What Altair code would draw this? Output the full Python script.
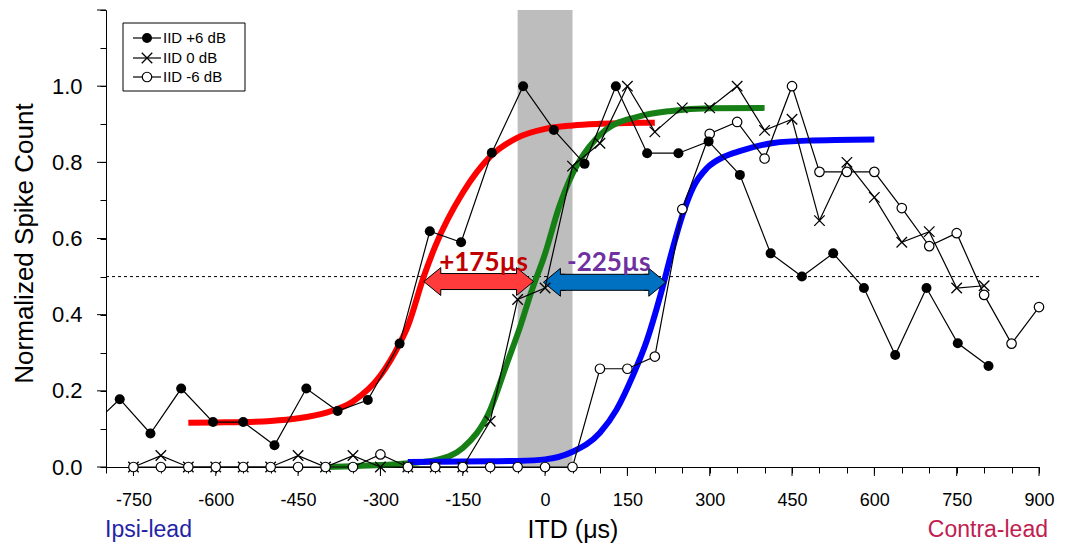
import altair as alt
import pandas as pd

FONT = "Liberation Sans"

# ---------------- data ----------------
# IID +6 dB (filled circles)
itd_p6 = [-832, -775, -719, -663, -605, -550, -493, -435, -378, -323, -265, -210, -153, -97, -40,
          16, 72, 129, 186, 243, 298, 355, 411, 468, 525, 581, 638, 695, 752, 808]
cnt_p6 = [0.10, 0.178, 0.088, 0.206, 0.118, 0.118, 0.057, 0.206, 0.147, 0.176, 0.324, 0.619, 0.59, 0.825, 1.0,
          0.885, 0.796, 1.0, 0.824, 0.824, 0.855, 0.767, 0.561, 0.50, 0.561, 0.47, 0.294, 0.47, 0.325, 0.265]

# IID 0 dB (crosses)
itd_0 = [-750, -700, -650, -600, -550, -500, -450, -400, -350, -300, -250, -200, -150, -100, -50, 0,
         50, 100, 150, 200, 250, 300, 350, 400, 450, 500, 550, 600, 650, 700, 750, 800]
cnt_0 = [0.0, 0.03, 0.0, 0.0, 0.0, 0.0, 0.03, 0.0, 0.03, 0.0, 0.0, 0.0, 0.0, 0.12, 0.44, 0.47,
         0.79, 0.85, 1.0, 0.88, 0.943, 0.943, 1.0, 0.884, 0.913, 0.647, 0.80, 0.708, 0.59, 0.618, 0.47, 0.476]

# IID -6 dB (open circles)
itd_m6 = [-750, -700, -650, -600, -550, -500, -450, -400, -350, -300, -250, -200, -150, -100, -50, 0, 50,
          100, 150, 200, 250, 300, 350, 400, 450, 500, 550, 600, 650, 700, 750, 800, 850, 900]
cnt_m6 = [0.0, 0.0, 0.0, 0.0, 0.0, 0.0, 0.0, 0.0, 0.0, 0.033, 0.0, 0.0, 0.0, 0.0, 0.0, 0.0, 0.0,
          0.258, 0.258, 0.29, 0.677, 0.875, 0.906, 0.81, 1.0, 0.775, 0.775, 0.775, 0.68, 0.58, 0.614, 0.452, 0.324, 0.42]

# fitted curves
red_x = [-650, -600, -550, -500, -450, -400, -350, -300, -265, -250, -221, -200, -150, -100, -50, 0, 50, 100, 150, 200]
red_y = [0.116, 0.117, 0.118, 0.121, 0.128, 0.142, 0.172, 0.24, 0.324, 0.37, 0.50, 0.58, 0.72, 0.815, 0.865,
         0.888, 0.897, 0.901, 0.903, 0.904]
green_x = [-400, -350, -300, -250, -200, -150, -100, -70, -45, -25, 0, 25, 50, 80, 110, 170, 230, 300, 400]
green_y = [0.0, 0.002, 0.005, 0.01, 0.018, 0.05, 0.15, 0.27, 0.37, 0.46, 0.56, 0.68, 0.77, 0.84, 0.885,
           0.92, 0.935, 0.942, 0.943]
blue_x = [-250, -200, -100, -50, 0, 50, 100, 130, 160, 185, 210, 230, 250, 270, 295, 325, 356, 416, 477, 600]
blue_y = [0.013, 0.014, 0.015, 0.016, 0.02, 0.04, 0.09, 0.15, 0.24, 0.33, 0.45, 0.56, 0.66, 0.735, 0.785,
          0.814, 0.83, 0.851, 0.857, 0.86]

# axis ticks
x_ticks = [-800, -750, -700, -650, -600, -550, -500, -450, -400, -350, -300, -250, -200, -150, -100, -50, 0,
           50, 100, 150, 200, 250, 300, 350, 400, 450, 500, 550, 600, 650, 700, 750, 800, 850, 900]
x_major = [-750, -600, -450, -300, -150, 0, 150, 300, 450, 600, 750, 900]
y_ticks = [0.0, 0.1, 0.2, 0.3, 0.4, 0.5, 0.6, 0.7, 0.8, 0.9, 1.0, 1.1, 1.2]
y_major = [0.0, 0.2, 0.4, 0.6, 0.8, 1.0, 1.2]

# annotations
band_lo, band_hi = [-50], [50]
half_line = [0.5]
arrow_start = [-221, -3]
arrow_end = [-21, 220]
arrow_y = [0.487, 0.485]
arrow_fill = ["#ff3b3b", "#0070c0"]
shift_text = ["+175µs", "-225µs"]
shift_text_x = [-112, 116]
shift_text_y = [0.515, 0.515]
shift_text_color = ["#c00000", "#7030a0"]
legend_labels = ["IID +6 dB", "IID 0 dB", "IID -6 dB"]

# ---------------- chart ----------------
W, H = 933, 457
xs = alt.Scale(domain=[-800, 900], nice=False, zero=False)
ys = alt.Scale(domain=[0, 1.2], nice=False, zero=False)

xaxis = alt.Axis(values=x_ticks,
                 labelExpr="(datum.value % 150 === 0 && datum.value > -800) ? ('' + datum.value) : ''",
                 title="ITD (μs)", titleFont=FONT, titleFontSize=25, titleFontWeight="normal",
                 titleY=70, titleBaseline="alphabetic", titleColor="black",
                 labelFont=FONT, labelFontSize=18, labelColor="black", labelBaseline="alphabetic",
                 labelPadding=32, tickSize=6, tickColor="black", domainColor="black",
                 grid=False, labelFlush=False, labelOverlap=False)
yaxis = alt.Axis(values=y_ticks,
                 labelExpr="(round(datum.value*10) % 2 === 0 && datum.value < 1.05) ? format(datum.value, '.1f') : ''",
                 title="Normalized Spike Count", titleFont=FONT, titleFontSize=26, titleFontWeight="normal",
                 titleX=-74, titleY=233, titleBaseline="alphabetic", titleAngle=270, titleColor="black",
                 labelFont=FONT, labelFontSize=22, labelColor="black", labelPadding=18,
                 tickSize=6, tickColor="black", domainColor="black", grid=False,
                 labelFlush=False, labelOverlap=False)


def X(f="x"):
    return alt.X(f"{f}:Q", scale=xs, axis=xaxis)


def Y(f="y"):
    return alt.Y(f"{f}:Q", scale=ys, axis=yaxis)


one = pd.DataFrame({"a": [0]})

layers = []

# gray band
band = alt.Chart(pd.DataFrame({"x": band_lo, "x2": band_hi})).mark_rect(color="#bdbdbd").encode(
    x=X(), x2="x2:Q")
layers.append(band)

# longer major ticks
layers.append(alt.Chart(pd.DataFrame({"x": x_major})).mark_rule(color="black", strokeWidth=1).encode(
    x=X(), y=alt.value(H), y2=alt.value(H + 9)))
layers.append(alt.Chart(pd.DataFrame({"y": y_major})).mark_rule(color="black", strokeWidth=1).encode(
    y=Y(), x=alt.value(-9), x2=alt.value(0)))

# dotted 0.5 line
layers.append(alt.Chart(pd.DataFrame({"y": half_line})).mark_rule(
    color="black", strokeWidth=1, strokeDash=[3, 3]).encode(y=Y()))

# fitted curves
for cx, cy, col in [(red_x, red_y, "#ff0000"), (green_x, green_y, "#168016"), (blue_x, blue_y, "#0000ff")]:
    layers.append(alt.Chart(pd.DataFrame({"x": cx, "y": cy})).mark_line(
        color=col, strokeWidth=6, interpolate="monotone").encode(x=X(), y=Y()))

# double arrows
HEAD_UX = 31      # head length in µs (≈17 px)
SHAFT_UY = 0.021  # shaft half height in y units (≈8 px)
left_head = "M1.3,-0.47L1,-0.47L1,-0.82L0,0L1,0.82L1,0.47L1.3,0.47"
right_head = "M-1.3,-0.47L-1,-0.47L-1,-0.82L0,0L-1,0.82L-1,0.47L-1.3,0.47"
for i in range(2):
    shaft = pd.DataFrame({"x": [arrow_start[i] + HEAD_UX], "x2": [arrow_end[i] - HEAD_UX],
                          "y": [arrow_y[i] - SHAFT_UY], "y2": [arrow_y[i] + SHAFT_UY]})
    layers.append(alt.Chart(shaft).mark_rect(fill=arrow_fill[i], stroke="black", strokeWidth=1).encode(
        x=X(), x2="x2:Q", y=Y(), y2="y2:Q"))
    layers.append(alt.Chart(pd.DataFrame({"x": [arrow_start[i]], "y": [arrow_y[i]]})).mark_point(
        shape=left_head, size=1156, filled=True, fill=arrow_fill[i], stroke="black", strokeWidth=1,
        opacity=1).encode(x=X(), y=Y()))
    layers.append(alt.Chart(pd.DataFrame({"x": [arrow_end[i]], "y": [arrow_y[i]]})).mark_point(
        shape=right_head, size=1156, filled=True, fill=arrow_fill[i], stroke="black", strokeWidth=1,
        opacity=1).encode(x=X(), y=Y()))

# data lines
df_p6 = pd.DataFrame({"x": itd_p6, "y": cnt_p6})
df_0 = pd.DataFrame({"x": itd_0, "y": cnt_0})
df_m6 = pd.DataFrame({"x": itd_m6, "y": cnt_m6})
layers.append(alt.Chart(df_p6).mark_line(color="black", strokeWidth=1.2, clip=True).encode(x=X(), y=Y()))
layers.append(alt.Chart(df_0).mark_line(color="black", strokeWidth=1.2).encode(x=X(), y=Y()))
layers.append(alt.Chart(df_m6).mark_line(color="black", strokeWidth=1.2).encode(x=X(), y=Y()))

CROSS = "M-1,-1L1,1M-1,1L1,-1"
layers.append(alt.Chart(df_0).mark_point(shape=CROSS, size=110, filled=False, stroke="black",
                                         strokeWidth=1.3, opacity=1).encode(x=X(), y=Y()))
layers.append(alt.Chart(df_m6).mark_point(shape="circle", size=90, filled=True, fill="white",
                                          stroke="black", strokeWidth=1.2, opacity=1).encode(x=X(), y=Y()))
layers.append(alt.Chart(df_p6).transform_filter(alt.datum.x >= -800).mark_point(
    shape="circle", size=100, filled=True, color="black", opacity=1).encode(x=X(), y=Y()))

# shift labels
for i in range(2):
    layers.append(alt.Chart(pd.DataFrame({"x": [shift_text_x[i]], "y": [shift_text_y[i]], "t": [shift_text[i]]}))
                  .mark_text(font="Lato", fontWeight="bold", fontSize=26, color=shift_text_color[i],
                             baseline="alphabetic", align="center")
                  .encode(x=X(), y=Y(), text="t:N"))

# legend (drawn by hand, pixel positions inside the plot)
layers.append(alt.Chart(one).mark_rect(fill="white", stroke="black", strokeWidth=1).encode(
    x=alt.value(17), x2=alt.value(139), y=alt.value(13), y2=alt.value(81)))
rows = [28, 48, 67]
for i, lab in enumerate(legend_labels):
    ry = rows[i]
    layers.append(alt.Chart(one).mark_rule(color="black", strokeWidth=1.2).encode(
        x=alt.value(27), x2=alt.value(55), y=alt.value(ry)))
    if i == 0:
        sym = alt.Chart(one).mark_point(shape="circle", size=100, filled=True, color="black", opacity=1)
    elif i == 1:
        sym = alt.Chart(one).mark_point(shape=CROSS, size=110, filled=False, stroke="black",
                                        strokeWidth=1.3, opacity=1)
    else:
        sym = alt.Chart(one).mark_point(shape="circle", size=90, filled=True, fill="white",
                                        stroke="black", strokeWidth=1.2, opacity=1)
    layers.append(sym.encode(x=alt.value(41), y=alt.value(ry)))
    layers.append(alt.Chart(one).mark_text(text=lab, font=FONT, fontSize=15, color="black",
                                           align="left", baseline="middle").encode(
        x=alt.value(57), y=alt.value(ry)))

# Ipsi / Contra labels under the axis
layers.append(alt.Chart(one).mark_text(text="Ipsi-lead", font=FONT, fontSize=23, color="#2424a6",
                                       align="left", baseline="alphabetic").encode(
    x=alt.value(-1), y=alt.value(527)))
layers.append(alt.Chart(one).mark_text(text="Contra-lead", font=FONT, fontSize=23, color="#c0204f",
                                       align="right", baseline="alphabetic").encode(
    x=alt.value(942), y=alt.value(527)))

chart = alt.layer(*layers).properties(
    width=W, height=H,
    autosize=alt.AutoSizeParams(type="none"),
    padding={"left": 106, "top": 10, "right": 26, "bottom": 79},
    background="white",
).configure_view(stroke=None)

chart.save("out.html", embed_options={"renderer": "svg", "actions": False})
